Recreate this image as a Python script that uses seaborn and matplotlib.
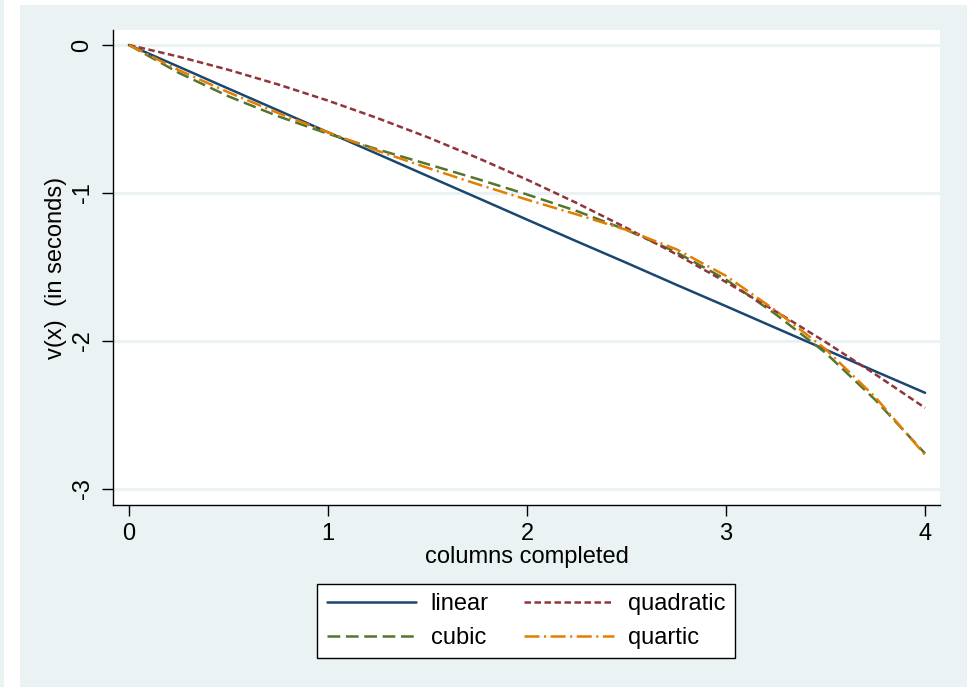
import matplotlib
matplotlib.use("Agg")
import matplotlib.pyplot as plt
import seaborn as sns
import pandas as pd
from matplotlib.patches import Rectangle

# ---- data ----
x_vals = [0.0, 0.25, 0.5, 0.75, 1.0, 1.25, 1.5, 1.75, 2.0,
          2.25, 2.5, 2.75, 3.0, 3.25, 3.5, 3.75, 4.0]
linear = [0.0, -0.147, -0.295, -0.442, -0.590, -0.737, -0.885, -1.032, -1.180,
          -1.327, -1.472, -1.620, -1.765, -1.912, -2.058, -2.205, -2.350]
quadratic = [0.0, -0.079, -0.168, -0.267, -0.376, -0.495, -0.623, -0.762, -0.910,
             -1.068, -1.236, -1.414, -1.602, -1.800, -2.007, -2.225, -2.452]
cubic = [0.0, -0.188, -0.347, -0.482, -0.600, -0.706, -0.805, -0.905, -1.010,
         -1.122, -1.250, -1.400, -1.585, -1.820, -2.080, -2.398, -2.760]
quartic = [0.0, -0.170, -0.320, -0.460, -0.590, -0.715, -0.830, -0.940, -1.045,
           -1.145, -1.250, -1.380, -1.560, -1.795, -2.055, -2.380, -2.770]

x_ticks = [0, 1, 2, 3, 4]
y_ticks = [0, -1, -2, -3]
x_label = "columns completed"
y_label = "v(x)  (in seconds)"

series = {"linear": linear, "quadratic": quadratic, "cubic": cubic, "quartic": quartic}

df = pd.concat([pd.DataFrame({"x": x_vals, "y": v, "model": k}) for k, v in series.items()],
               ignore_index=True)

colors = {"linear": "#1A476F", "quadratic": "#90353B", "cubic": "#55752F", "quartic": "#E37E00"}
styles = {"linear": "-",
          "quadratic": (0, (2.6, 1.4)),
          "cubic": (0, (5.1, 2.25)),
          "quartic": (0, (6.0, 1.8, 0.85, 1.8))}

sns.set_theme(style="white")
plt.rcParams["font.family"] = ["Liberation Sans", "DejaVu Sans"]
plt.rcParams["text.color"] = "black"

BG = "#EAF2F3"
fig = plt.figure(figsize=(9.67, 6.87), dpi=100, facecolor="white")
W, H = 967, 687
fig.patches.append(Rectangle((20 / W, 0), 1 - 20 / W, 1 - 5 / H, transform=fig.transFigure,
                             facecolor=BG, edgecolor="none", zorder=-10))
fig.patches.append(Rectangle((0, 0), 4 / W, 1, transform=fig.transFigure,
                             facecolor=BG, edgecolor="none", zorder=-10))

ax = fig.add_axes([113 / W, 1 - 505 / H, (940 - 113) / W, (505 - 30) / H])
ax.set_facecolor("white")

for name in ["linear", "cubic", "quadratic", "quartic"]:
    sub = df[df["model"] == name]
    sns.lineplot(data=sub, x="x", y="y", ax=ax, color=colors[name],
                 linestyle=styles[name], linewidth=1.8, label=name,
                 estimator=None, sort=False)

ax.set_xlim(-0.080, 4.075)
ax.set_ylim(-3.108, 0.101)
ax.set_xticks(x_ticks)
ax.set_yticks(y_ticks)
ax.set_xticklabels([str(t) for t in x_ticks], fontsize=17)
ax.set_yticklabels([str(t) for t in y_ticks], fontsize=17, rotation=90, va="center")
ax.tick_params(axis="both", direction="out", length=8, width=1.0, color="black",
               labelcolor="black", left=True, bottom=True)
ax.tick_params(axis="x", pad=5)
ax.tick_params(axis="y", pad=6)

ax.grid(False)
for t in y_ticks:
    ax.axhline(t, color=BG, linewidth=2.2, zorder=0.5)

for s in ["top", "right"]:
    ax.spines[s].set_visible(False)
for s in ["left", "bottom"]:
    ax.spines[s].set_color("black")
    ax.spines[s].set_linewidth(1.0)

ax.set_xlabel(x_label, fontsize=17, labelpad=1, color="black")
ax.set_ylabel(y_label, fontsize=17, labelpad=3, color="black")

ax.legend_.remove()
handles, labels = ax.get_legend_handles_labels()
leg = fig.legend(handles, labels, ncol=2, loc="center",
                 bbox_to_anchor=(526 / W, 1 - 621 / H), bbox_transform=fig.transFigure,
                 fontsize=17, frameon=True, fancybox=False, edgecolor="black",
                 framealpha=1, facecolor="white", handlelength=3.8, handletextpad=0.6,
                 columnspacing=1.5, labelspacing=0.5, borderpad=0.4, borderaxespad=0)
leg.get_frame().set_linewidth(1.0)
for t in leg.get_texts():
    t.set_color("black")

fig.savefig("out.png", dpi=100, facecolor=fig.get_facecolor())
